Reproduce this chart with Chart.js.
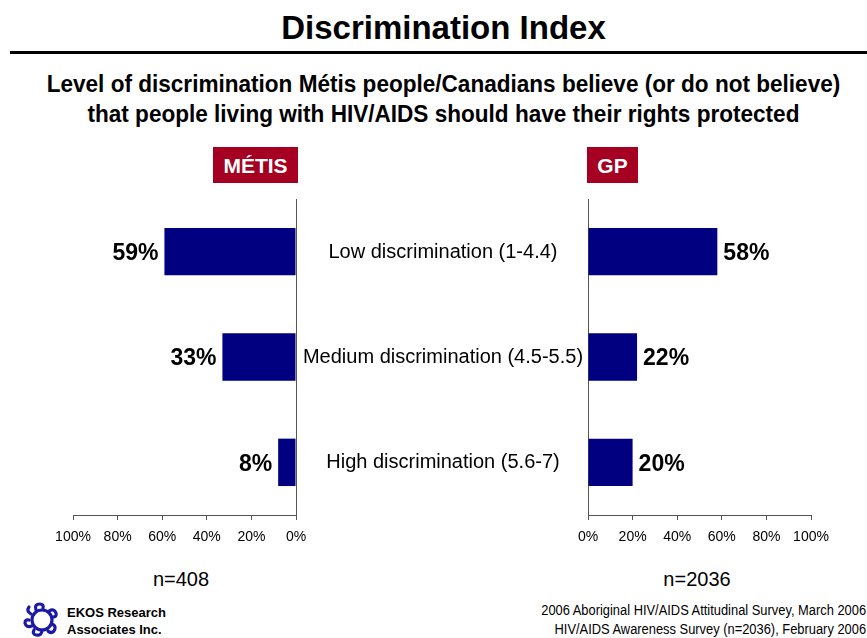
<!DOCTYPE html>
<html lang="en">
<head>
    <meta charset="UTF-8">
    <title>Discrimination Index</title>
    <script src="https://cdn.jsdelivr.net/npm/chart.js"></script>
    <style>
        html, body { margin: 0; padding: 0; background: #fff; overflow: hidden; }
        body { width: 867px; height: 638px; position: relative; font-family: "Liberation Sans", Arial, sans-serif; color: #000; }
        .narrow { font-family: "Liberation Sans Narrow", "Arial Narrow", "Liberation Sans", sans-serif; }
        #title { position: absolute; left: 0; width: 887px; top: 9px; text-align: center; font-size: 33px; font-weight: bold; }
        #rule { position: absolute; left: 10px; right: 0; top: 51px; height: 3px; background: #000; }
        #subtitle { position: absolute; left: 0; width: 887px; top: 69px; text-align: center; font-size: 24px; font-weight: bold; line-height: 30px; transform: scaleX(0.94); transform-origin: 443px 0; }
        .tag { position: absolute; top: 147px; height: 36px; background: #a50021; color: #fff; font-size: 21px; font-weight: bold; line-height: 38px; text-align: center; }
        .box { position: absolute; }
        .cat { position: absolute; width: 300px; margin-left: -150px; text-align: center; font-size: 20px; line-height: 24px; }
        .n { position: absolute; top: 568px; font-size: 20px; width: 120px; margin-left: -60px; text-align: center; }
        #ekos { position: absolute; left: 67px; top: 604px; font-size: 13px; font-weight: bold; line-height: 17px; }
        #source { position: absolute; right: 1px; top: 601px; font-size: 14px; line-height: 19px; text-align: right; transform: scaleX(0.92); transform-origin: right top; white-space: nowrap; }
        #logo { position: absolute; left: 22px; top: 602px; }
    </style>
</head>
<body>
    <div id="title">Discrimination Index</div>
    <div id="rule"></div>
    <div id="subtitle" class="narrow">Level of discrimination Métis people/Canadians believe (or do not believe)<br>that people living with HIV/AIDS should have their rights protected</div>

    <div class="tag narrow" style="left:213px; width:85px;">MÉTIS</div>
    <div class="tag narrow" style="left:587px; width:51px;">GP</div>

    <div class="box" id="leftBox" style="left:0; top:190px; width:330px; height:360px;"><canvas id="leftChart"></canvas></div>
    <div class="box" id="rightBox" style="left:540px; top:190px; width:320px; height:360px;"><canvas id="rightChart"></canvas></div>

    <div id="cats"></div>

    <div class="n narrow" style="left:181px;">n=408</div>
    <div class="n narrow" style="left:697px;">n=2036</div>

    <svg id="logo" width="40" height="36" viewBox="0 0 40 36">
        <g fill="none" stroke="#1a1aa6" stroke-width="3.2" stroke-linecap="round">
            <circle cx="20" cy="18" r="10"/>
            <path d="M14 8 q-2 -6 4 -6 q4 0 3 4"/>
            <path d="M27 9 q5 -3 7 2 q1 4 -3 4"/>
            <path d="M30 22 q5 2 2 7 q-3 3 -6 0"/>
            <path d="M20 28 q0 6 -6 5 q-4 -1 -2 -5"/>
            <path d="M10 24 q-6 2 -7 -3 q0 -4 4 -3"/>
            <path d="M9 12 q-5 -3 -2 -7"/>
        </g>
    </svg>
    <div id="ekos">EKOS Research<br>Associates Inc.</div>
    <div id="source" class="narrow">2006 Aboriginal HIV/AIDS Attitudinal Survey, March 2006<br>HIV/AIDS Awareness Survey (n=2036), February 2006</div>

    <script>
        // data
        const categories = ['Low discrimination (1-4.4)', 'Medium discrimination (4.5-5.5)', 'High discrimination (5.6-7)'];
        const metisValues = [59, 33, 8];
        const gpValues = [58, 22, 20];
        const tickValues = [0, 20, 40, 60, 80, 100];

        const barColor = '#000080';
        const axisColor = '#555555';

        // value labels next to the bar ends
        const valueLabels = {
            id: 'valueLabels',
            afterDatasetsDraw(chart, args, opts) {
                const ctx = chart.ctx;
                const meta = chart.getDatasetMeta(0);
                ctx.save();
                ctx.font = 'bold 23px "Liberation Sans", Arial, sans-serif';
                ctx.fillStyle = '#000';
                ctx.textBaseline = 'middle';
                meta.data.forEach((bar, i) => {
                    const v = chart.data.datasets[0].data[i];
                    if (opts.side === 'left') {
                        ctx.textAlign = 'right';
                        ctx.fillText(v + '%', bar.x - 6, bar.y + 2);
                    } else {
                        ctx.textAlign = 'left';
                        ctx.fillText(v + '%', bar.x + 6, bar.y + 2);
                    }
                });
                ctx.restore();
            }
        };

        function makeChart(id, values, side, pad) {
            const ctx = document.getElementById(id).getContext('2d');
            return new Chart(ctx, {
                type: 'bar',
                data: {
                    labels: categories,
                    datasets: [{
                        data: values,
                        backgroundColor: barColor,
                        borderWidth: 0,
                        categoryPercentage: 1,
                        barPercentage: 0.45
                    }]
                },
                plugins: [valueLabels],
                options: {
                    indexAxis: 'y',
                    responsive: true,
                    maintainAspectRatio: false,
                    animation: false,
                    layout: { padding: pad },
                    plugins: {
                        legend: { display: false },
                        tooltip: { enabled: false },
                        valueLabels: { side: side }
                    },
                    scales: {
                        x: {
                            min: 0,
                            max: 100,
                            reverse: side === 'left',
                            afterBuildTicks: s => { s.ticks = tickValues.map(v => ({ value: v })); },
                            afterFit: s => { s.height = 35; },
                            ticks: {
                                padding: 9,
                                color: '#000',
                                font: { family: '"Liberation Sans", Arial, sans-serif', size: 14 },
                                callback: v => v + '%'
                            },
                            grid: { drawOnChartArea: false, drawTicks: true, tickLength: 5, color: axisColor },
                            border: { display: true, color: axisColor, width: 1 }
                        },
                        y: {
                            position: side === 'left' ? 'right' : 'left',
                            afterFit: s => { s.width = 0; },
                            ticks: { display: false },
                            grid: { display: false },
                            border: { display: true, color: axisColor, width: 1 }
                        }
                    }
                }
            });
        }

        const leftChart = makeChart('leftChart', metisValues, 'left', { left: 73, right: 34, top: 9, bottom: 0 });
        const rightChart = makeChart('rightChart', gpValues, 'right', { left: 48, right: 49, top: 9, bottom: 0 });

        // category names in the middle, lined up with the bars
        const catBox = document.getElementById('cats');
        const yScale = leftChart.scales.y;
        categories.forEach((c, i) => {
            const d = document.createElement('div');
            d.className = 'cat narrow';
            d.textContent = c;
            d.style.left = '443px';
            d.style.top = (190 + yScale.getPixelForValue(i) - 13) + 'px';
            catBox.appendChild(d);
        });
    </script>
</body>
</html>
